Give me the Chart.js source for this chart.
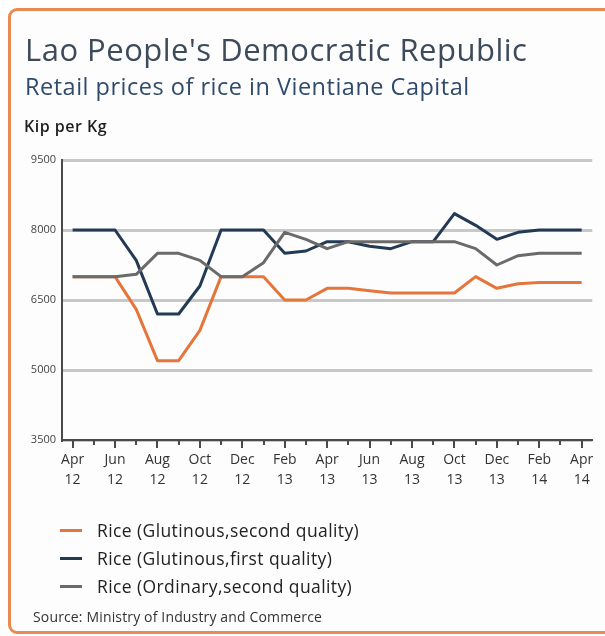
<!DOCTYPE html>
<html>
<head>
<meta charset="utf-8">
<script src="https://cdn.jsdelivr.net/npm/chart.js@4"></script>
<style>
    html, body {
        margin: 0;
        padding: 0;
        background: #ffffff;
    }
    #page {
        position: relative;
        width: 605px;
        height: 636px;
        overflow: hidden;
        font-family: "Open Sans", sans-serif;
    }
    #frame {
        position: absolute;
        left: 8px;
        top: 8px;
        width: 610px;
        height: 620px;
        border: 3px solid #ea8a52;
        border-radius: 9px;
        background: #fdfdfd;
    }
    #chart-wrap {
        position: absolute;
        left: 0;
        top: 0;
        width: 605px;
        height: 636px;
    }
    .txt {
        position: absolute;
        white-space: nowrap;
    }
    #title {
        left: 25px;
        top: 34px;
        font-size: 31px;
        line-height: 31px;
        letter-spacing: 0.5px;
        color: #3d4a5a;
    }
    #subtitle {
        left: 25px;
        top: 75px;
        font-size: 23.5px;
        line-height: 23.5px;
        letter-spacing: 0.5px;
        color: #2f4a6b;
    }
    #unit {
        left: 24px;
        top: 118px;
        font-size: 16px;
        line-height: 16px;
        font-weight: 600;
        letter-spacing: 0.5px;
        color: #1e1e1e;
    }
    #legend {
        position: absolute;
        left: 60px;
        top: 516px;
    }
    .legend-row {
        display: flex;
        align-items: center;
        height: 28px;
    }
    .legend-swatch {
        width: 22px;
        height: 3px;
        margin-right: 15px;
    }
    .legend-label {
        font-size: 17.5px;
        line-height: 28px;
        letter-spacing: 0.4px;
        color: #222;
    }
    #source {
        left: 33px;
        top: 607px;
        font-size: 14px;
        line-height: 20px;
        letter-spacing: 0.15px;
        color: #333;
    }
</style>
</head>
<body>
<div id="page">
    <div id="frame"></div>
    <div id="chart-wrap"><canvas id="rice-chart" width="605" height="636"></canvas></div>
    <div class="txt" id="title">Lao People's Democratic Republic</div>
    <div class="txt" id="subtitle">Retail prices of rice in Vientiane Capital</div>
    <div class="txt" id="unit">Kip per Kg</div>
    <div id="legend"></div>
    <div class="txt" id="source">Source: Ministry of Industry and Commerce</div>
</div>
<script>
    const months = [
        "Apr", "May", "Jun", "Jul", "Aug", "Sep", "Oct", "Nov", "Dec",
        "Jan", "Feb", "Mar", "Apr", "May", "Jun", "Jul", "Aug", "Sep", "Oct", "Nov", "Dec",
        "Jan", "Feb", "Mar", "Apr",
    ];
    const years = [
        "12", "12", "12", "12", "12", "12", "12", "12", "12",
        "13", "13", "13", "13", "13", "13", "13", "13", "13", "13", "13", "13",
        "14", "14", "14", "14",
    ];

    // Kip per Kg, monthly, Apr 2012 - Apr 2014
    const glutinousSecond = [
        7000, 7000, 7000, 6300, 5200, 5200, 5850, 7000, 7000,
        7000, 6500, 6500, 6750, 6750, 6700, 6650, 6650, 6650, 6650, 7000, 6750,
        6850, 6875, 6875, 6875,
    ];
    const glutinousFirst = [
        8000, 8000, 8000, 7350, 6200, 6200, 6800, 8000, 8000,
        8000, 7500, 7550, 7750, 7750, 7650, 7600, 7750, 7750, 8350, 8100, 7800,
        7950, 8000, 8000, 8000,
    ];
    const ordinarySecond = [
        7000, 7000, 7000, 7050, 7500, 7500, 7350, 7000, 7000,
        7300, 7950, 7800, 7600, 7750, 7750, 7750, 7750, 7750, 7750, 7600, 7250,
        7450, 7500, 7500, 7500,
    ];

    const yTicks = [3500, 5000, 6500, 8000, 9500];

    const COLORS = {
        orange: "#e4763c",
        navy: "#233a55",
        grey: "#6a6a6a",
        grid: "#c8c8c8",
        axis: "#4a4a4a",
    };

    document.addEventListener("DOMContentLoaded", () => {
        const series = [
            { name: "Rice (Glutinous,second quality)", data: glutinousSecond, color: COLORS.orange, order: 2 },
            { name: "Rice (Glutinous,first quality)", data: glutinousFirst, color: COLORS.navy, order: 1 },
            { name: "Rice (Ordinary,second quality)", data: ordinarySecond, color: COLORS.grey, order: 0 },
        ];

        // small ticks under the x axis, longer on the labelled months
        const tickMarks = {
            id: "tickMarks",
            afterDraw(chart) {
                const ctx = chart.ctx;
                const xScale = chart.scales.x;
                const bottom = chart.chartArea.bottom;
                ctx.save();
                ctx.strokeStyle = COLORS.axis;
                ctx.lineWidth = 2;
                months.forEach((m, i) => {
                    const px = Math.round(xScale.getPixelForValue(i));
                    const len = i % 2 === 0 ? 8 : 5;
                    ctx.beginPath();
                    ctx.moveTo(px, bottom);
                    ctx.lineTo(px, bottom + len);
                    ctx.stroke();
                });
                ctx.restore();
            },
        };

        function renderLegend() {
            const legend = document.getElementById("legend");
            series.forEach((s) => {
                const row = document.createElement("div");
                row.className = "legend-row";
                const swatch = document.createElement("div");
                swatch.className = "legend-swatch";
                swatch.style.background = s.color;
                const label = document.createElement("div");
                label.className = "legend-label";
                label.textContent = s.name;
                row.appendChild(swatch);
                row.appendChild(label);
                legend.appendChild(row);
            });
        }

        function renderChart(ctx) {
            const chartData = {
                labels: months.map((m, i) => m + " " + years[i]),
                datasets: series.map((s) => {
                    return {
                        label: s.name,
                        data: s.data,
                        borderColor: s.color,
                        backgroundColor: s.color,
                        borderWidth: 3,
                        borderJoinStyle: "round",
                        pointRadius: 0,
                        tension: 0,
                        order: s.order,
                    };
                }),
            };

            new Chart(ctx, {
                type: "line",
                data: chartData,
                options: {
                    responsive: false,
                    animation: false,
                    layout: {
                        padding: { left: 20, top: 160, right: 12.7, bottom: 136 },
                    },
                    plugins: {
                        legend: { display: false },
                        tooltip: { enabled: false },
                    },
                    scales: {
                        x: {
                            offset: true,
                            afterFit: (scale) => {
                                scale.height = 60;
                            },
                            grid: { display: false, drawTicks: false },
                            border: { display: true, color: COLORS.axis, width: 2 },
                            ticks: {
                                autoSkip: false,
                                maxRotation: 0,
                                padding: 10,
                                color: "#333",
                                font: { family: "Open Sans", size: 14, lineHeight: "20px" },
                                callback: (value, index) => {
                                    return index % 2 === 0 ? [months[index], years[index]] : "";
                                },
                            },
                        },
                        y: {
                            min: yTicks[0],
                            max: yTicks[yTicks.length - 1],
                            afterFit: (scale) => {
                                scale.width = 42;
                            },
                            afterBuildTicks: (scale) => {
                                scale.ticks = yTicks.map((v) => ({ value: v }));
                            },
                            grid: { color: COLORS.grid, lineWidth: 3, drawTicks: false },
                            border: { display: true, color: COLORS.axis, width: 2 },
                            ticks: {
                                padding: 6,
                                color: "#444",
                                font: { family: "Open Sans", size: 11 },
                                callback: (value) => String(value),
                            },
                        },
                    },
                },
                plugins: [tickMarks],
            });
        }

        renderLegend();
        renderChart(document.getElementById("rice-chart").getContext("2d"));
    });
</script>
</body>
</html>
